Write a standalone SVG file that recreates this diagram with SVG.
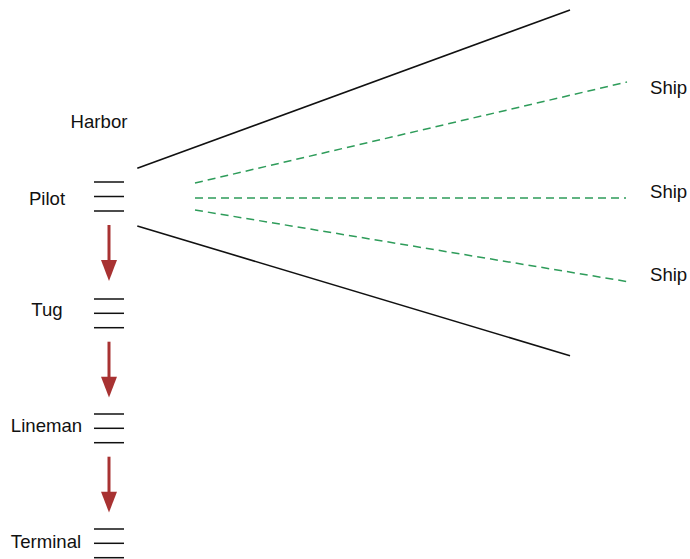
<svg xmlns="http://www.w3.org/2000/svg" width="690" height="559" viewBox="0 0 690 559">
<defs>
<style>
text{font-family:"Liberation Sans",Arial,sans-serif;font-size:18.6px;fill:#111}
.tick{stroke:#111;stroke-width:1.5}
.ray{stroke:#111;stroke-width:1.6;fill:none}
.dash{stroke:#2e9c5a;stroke-width:1.5;stroke-dasharray:8 5;fill:none}
.arr{stroke:#a83232;stroke-width:3;fill:none}
.head{fill:#a83232}
</style>
</defs>
<rect width="690" height="559" fill="#fff"/>
<text x="99" y="128" text-anchor="middle">Harbor</text>
<g id="pilot">
<text x="47" y="205" text-anchor="middle">Pilot</text>
<line class="tick" x1="94" y1="182" x2="124" y2="182"/>
<line class="tick" x1="94" y1="196.5" x2="124" y2="196.5"/>
<line class="tick" x1="94" y1="211" x2="124" y2="211"/>
</g>
<g id="tug">
<text x="47" y="316" text-anchor="middle">Tug</text>
<line class="tick" x1="94" y1="299" x2="124" y2="299"/>
<line class="tick" x1="94" y1="313.3" x2="124" y2="313.3"/>
<line class="tick" x1="94" y1="327.7" x2="124" y2="327.7"/>
</g>
<g id="lineman">
<text x="46.5" y="432" text-anchor="middle">Lineman</text>
<line class="tick" x1="94" y1="414" x2="124" y2="414"/>
<line class="tick" x1="94" y1="428.3" x2="124" y2="428.3"/>
<line class="tick" x1="94" y1="442.7" x2="124" y2="442.7"/>
</g>
<g id="terminal">
<text x="46" y="547.5" text-anchor="middle">Terminal</text>
<line class="tick" x1="94" y1="529" x2="124" y2="529"/>
<line class="tick" x1="94" y1="543.3" x2="124" y2="543.3"/>
<line class="tick" x1="94" y1="557.7" x2="124" y2="557.7"/>
</g>
<g id="ship1"><text x="650" y="93.5">Ship</text></g>
<g id="ship2"><text x="650" y="197.5">Ship</text></g>
<g id="ship3"><text x="650" y="280.5">Ship</text></g>
<g id="connectors">
<line class="ray" x1="137.3" y1="168.3" x2="570" y2="10"/>
<line class="ray" x1="137.3" y1="226" x2="570" y2="355.7"/>
<line class="dash" x1="195" y1="183" x2="627" y2="82"/>
<line class="dash" x1="195" y1="198" x2="626" y2="198"/>
<line class="dash" x1="195" y1="210" x2="628" y2="281.7"/>
<line class="arr" x1="109" y1="225" x2="109" y2="262"/>
<polygon class="head" points="101,260 117,260 109,281"/>
<line class="arr" x1="109" y1="341.7" x2="109" y2="378"/>
<polygon class="head" points="101,376.7 117,376.7 109,397.5"/>
<line class="arr" x1="109" y1="456.7" x2="109" y2="493"/>
<polygon class="head" points="101,491.7 117,491.7 109,512.5"/>
</g>
</svg>
